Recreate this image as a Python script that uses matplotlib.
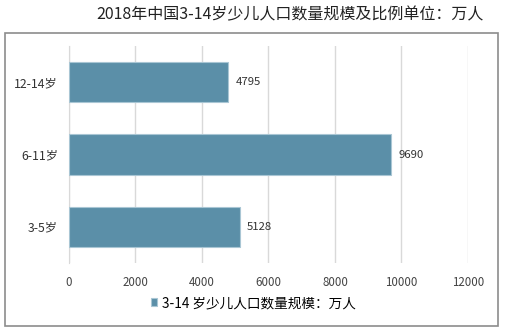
import matplotlib.pyplot as plt
from matplotlib.patches import Rectangle

plt.rcParams['font.family'] = ['Noto Sans CJK SC', 'DejaVu Sans']

categories = ["3-5岁", "6-11岁", "12-14岁"]
values = [5128, 9690, 4795]
xticks = [0, 2000, 4000, 6000, 8000, 10000, 12000]
series_name = "3-14 岁少儿人口数量规模：万人"
title = "2018年中国3-14岁少儿人口数量规模及比例单位：万人"

fig = plt.figure(figsize=(5.06, 3.31), dpi=100)
W, H = 506, 331

# outer frame of the chart box
fig.patches.append(Rectangle((5 / W, 1 - 326 / H), 493 / W, 293 / H,
                             transform=fig.transFigure, fill=False,
                             edgecolor="#8c8c8c", linewidth=1.2))

ax = fig.add_axes([69 / W, 1 - 263 / H, (468 - 69) / W, (263 - 46) / H])

bars = ax.barh(range(len(categories)), values, height=0.56,
               color="#5b8fa8", edgecolor="#a9c6d4", linewidth=0.8, zorder=3,
               label=series_name)

for i, v in enumerate(values):
    ax.text(v + 220, i, str(v), va="center", ha="left", fontsize=8.2,
            color="#333333")

ax.set_xlim(0, 12000)
ax.set_ylim(-0.5, 2.5)
ax.set_xticks(xticks)
ax.set_xticklabels([str(t) for t in xticks], fontsize=8.3, color="#444444")
ax.set_yticks(range(len(categories)))
ax.set_yticklabels(categories, fontsize=8.8, color="#333333")
ax.tick_params(axis="both", length=0, pad=8)
ax.tick_params(axis="x", pad=9)

ax.grid(axis="x", color="#d9d9d9", linewidth=1, zorder=0)
for s in ["top", "right", "bottom"]:
    ax.spines[s].set_visible(False)
ax.spines["left"].set_color("#d9d9d9")

fig.text(290 / W, 1 - 15 / H, title, ha="center", va="center", fontsize=11.5,
         color="#222222")

fig.legend(handles=[bars], labels=[series_name], loc="center",
           bbox_to_anchor=(253 / W, 1 - 303 / H), frameon=False, fontsize=9.8,
           handlelength=0.5, handleheight=0.5, handletextpad=0.3)

fig.savefig("out.png", dpi=100)
